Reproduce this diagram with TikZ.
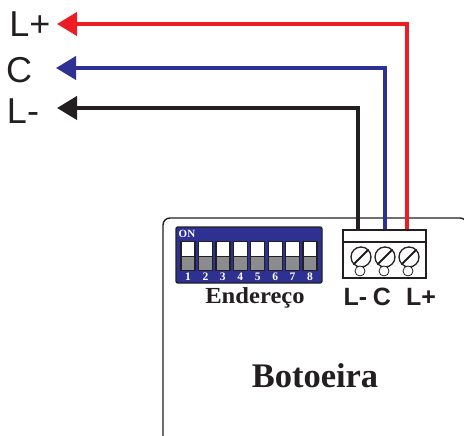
\documentclass[tikz,border=0pt]{standalone}
\usepackage{fontspec}
\setmainfont{Liberation Sans}
\newfontfamily\serifbold[Ligatures=TeX]{Liberation Serif}
\newfontfamily\serifwide[Ligatures=TeX,FakeStretch=1.07]{Liberation Serif}
\usetikzlibrary{arrows.meta}
\definecolor{wirered}{HTML}{ED1C24}
\definecolor{wireblue}{HTML}{2E3192}
\definecolor{wireblack}{HTML}{231F20}
\definecolor{swgray}{HTML}{8A8C8E}
\begin{document}
\begin{tikzpicture}[x=1pt, y=-1pt]
	\tikzstyle{every path}=[line width=1.4pt, color=wireblack]
	\tikzstyle{wire}=[line width=4pt, {Triangle[length=20pt,width=23pt,sep=0pt]}-]
	\tikzstyle{sidelabel}=[inner sep=0pt, font=\fontsize{36}{36}\selectfont, text=wireblack]
	\tikzstyle{termlabel}=[inner sep=0pt, font=\fontsize{25}{25}\selectfont\bfseries, text=wireblack]
	\tikzstyle{swon}=[draw, fill=white, line width=1.3pt, minimum width=14pt, minimum height=14.5pt, inner sep=0pt]
	\tikzstyle{swoff}=[draw, fill=swgray, line width=1.3pt, minimum width=14pt, minimum height=14.5pt, inner sep=0pt]
	\tikzstyle{swnum}=[inner sep=0pt, text=white, font=\serifbold\fontsize{11.5}{11.5}\selectfont\bfseries]
	\tikzstyle{screw}=[draw, circle, fill=white, line width=1.3pt, minimum size=20pt, inner sep=0pt]
	\tikzstyle{hole}=[draw, circle, fill=white, line width=0.8pt, minimum size=10pt, inner sep=0pt]

	\useasboundingbox (0,0) rectangle (464,436);

	% housing
	\draw [rounded corners=7pt] (163,436) -- (163,218) -- (467,218) -- (467,250);

	% dip switch
	\node [draw, fill=wireblue, rounded corners=2pt, minimum width=146pt, minimum height=56pt, inner sep=0pt] (dip) at (249,255) {};
	\node [anchor=west, inner sep=0pt, text=white, font=\serifbold\fontsize{11}{11}\selectfont\bfseries] (on) at (178,234) {ON};

	\begin{scope}[node distance=17.43pt]
	\node [swon] (s1) at (188,249) {};
	\node [swon] (s2) [right of=s1] {};
	\node [swon] (s3) [right of=s2] {};
	\node [swon] (s4) [right of=s3] {};
	\node [swon] (s5) [right of=s4] {};
	\node [swon] (s6) [right of=s5] {};
	\node [swon] (s7) [right of=s6] {};
	\node [swon] (s8) [right of=s7] {};
	\node [swoff] (o1) at (188,263.5) {};
	\node [swoff] (o2) [right of=o1] {};
	\node [swoff] (o3) [right of=o2] {};
	\node [swoff] (o4) [right of=o3] {};
	\node [swoff] (o5) [right of=o4] {};
	\node [swoff] (o6) [right of=o5] {};
	\node [swoff] (o7) [right of=o6] {};
	\node [swoff] (o8) [right of=o7] {};
	\node [swnum] (n1) at (188,277) {1};
	\node [swnum] (n2) [right of=n1] {2};
	\node [swnum] (n3) [right of=n2] {3};
	\node [swnum] (n4) [right of=n3] {4};
	\node [swnum] (n5) [right of=n4] {5};
	\node [swnum] (n6) [right of=n5] {6};
	\node [swnum] (n7) [right of=n6] {7};
	\node [swnum] (n8) [right of=n7] {8};
	\end{scope}

	\node [inner sep=0pt, font=\serifwide\fontsize{23}{23}\selectfont\bfseries, text=wireblack] (addr) at (255,298) {Endereço};
	\node [inner sep=0pt, font=\serifbold\fontsize{34.5}{34.5}\selectfont\bfseries, text=wireblack] (bot) at (315,376) {Botoeira};

	% terminal block
	\node [draw, fill=white, minimum width=83pt, minimum height=48pt, inner sep=0pt] (block) at (384.5,254) {};
	\node [draw, minimum width=83pt, minimum height=12pt, inner sep=0pt] (band) at (384.5,236) {};
	\node [screw] (sc1) at (361,257) {};
	\node [screw] (sc2) at (385,257) {};
	\node [screw] (sc3) at (409,257) {};
	\node [hole] (h1) at (360,271) {};
	\node [hole] (h2) at (384,271) {};
	\node [hole] (h3) at (408,271) {};
	\draw [line width=1.8pt] (sc1.225) -- (sc1.45);
	\draw [line width=1.8pt] (sc2.225) -- (sc2.45);
	\draw [line width=1.8pt] (sc3.225) -- (sc3.45);

	\node [termlabel] (tl) at (355.5,297) {L-};
	\node [termlabel] (tc) at (382,297) {C};
	\node [termlabel] (tp) at (421,297) {L+};

	% outside labels
	\node [sidelabel] (lp) at (30,24) {L+};
	\node [sidelabel] (lc) at (19,70) {C};
	\node [sidelabel] (lm) at (23,111) {L-};
	\coordinate (tipp) at (57,24);
	\coordinate (tipc) at (56,68);
	\coordinate (tipm) at (57,108);

	\draw [wire, color=wireblack] (tipm) -| ([xshift=-26.5pt]band.north);
	\draw [wire, color=wireblue] (tipc) -| (band.north);
	\draw [wire, color=wirered] (tipp) -| ([xshift=22.5pt]band.north);

\end{tikzpicture}
\end{document}
